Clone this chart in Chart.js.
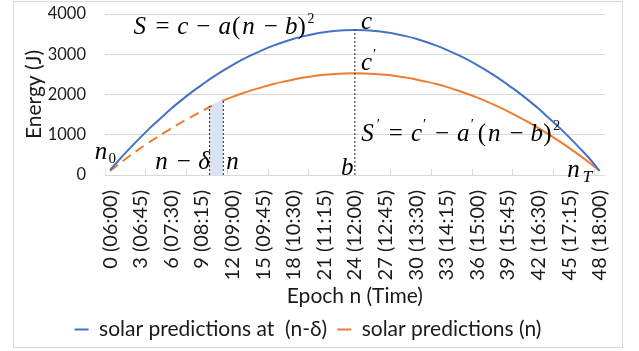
<!DOCTYPE html>
<html>
<head>
<meta charset="utf-8">
<script src="https://cdn.jsdelivr.net/npm/chart.js@4.4.1/dist/chart.umd.min.js"></script>
<style>
  html, body { margin: 0; padding: 0; background: #fff; }
  #frame { position: absolute; left: 13px; top: 1px; width: 610px; height: 347px; border: 1px solid #d9d9d9; box-sizing: border-box; }
  #wrap { position: absolute; left: 0; top: 0; width: 639px; height: 351px; }
</style>
</head>
<body>
<div id="frame"></div>
<div id="wrap"><canvas id="chart"></canvas></div>
<script>
// epochs 0..48 (15 min each, 06:00 -> 18:00)
const epochs = [0, 1, 2, 3, 4, 5, 6, 7, 8, 9, 10, 11, 12, 13, 14, 15, 16, 17, 18, 19, 20, 21, 22, 23, 24,
                25, 26, 27, 28, 29, 30, 31, 32, 33, 34, 35, 36, 37, 38, 39, 40, 41, 42, 43, 44, 45, 46, 47, 48];

// solar predictions made at (n - delta)
const predDelayed = [120, 410, 680, 940, 1190, 1420, 1650, 1860, 2060, 2240, 2420, 2580, 2730, 2870, 2995, 3110,
                     3215, 3305, 3385, 3450, 3505, 3545, 3575, 3595, 3600, 3595, 3575, 3545, 3505, 3450, 3385, 3305,
                     3215, 3110, 2995, 2870, 2730, 2580, 2420, 2240, 2060, 1860, 1650, 1420, 1190, 940, 680, 410, 100];

// solar predictions at n
const predNow = [100, 300, 490, 670, 840, 1000, 1160, 1310, 1450, 1590, 1720, 1840, 1940, 2030, 2115, 2190,
                 2260, 2320, 2375, 2420, 2460, 2490, 2510, 2522, 2526, 2522, 2510, 2490, 2460, 2420, 2375, 2320,
                 2260, 2190, 2106, 2018, 1921, 1816, 1703, 1581, 1451, 1312, 1165, 1010, 846, 674, 493, 304, 107];

const yTickValues = [0, 1000, 2000, 3000, 4000];
const xTickValues = [0, 3, 6, 9, 12, 15, 18, 21, 24, 27, 30, 33, 36, 39, 42, 45, 48];
const xTickLabels = ['0 (06:00)', '3 (06:45)', '6 (07:30)', '9 (08:15)', '12 (09:00)', '15 (09:45)',
                     '18 (10:30)', '21 (11:15)', '24 (12:00)', '27 (12:45)', '30 (13:30)', '33 (14:15)',
                     '36 (15:00)', '39 (15:45)', '42 (16:30)', '45 (17:15)', '48 (18:00)'];
// small tick marks sit between categories, every 4 epochs
const xTickMarks = [-0.5, 3.5, 7.5, 11.5, 15.5, 19.5, 23.5, 27.5, 31.5, 35.5, 39.5, 43.5, 47.5];

// shaded window between n-delta and n, and the peak epoch b
const windowEpochs = [9.75, 11.1];
const windowTop = [1714, 1881];
const peakEpoch = 24;
const peakValue = 3600;
const dashEnd = 10; // orange is dashed up to here

const BLUE = '#4472c4';
const ORANGE = '#ed7d31';
const SANS = 'Lato, "Open Sans", sans-serif';
const SERIF = '"Liberation Serif", "DejaVu Serif", serif';
const TXT = '#1a1a1a';

const xy = (xs, ys) => xs.map((x, i) => ({ x: x, y: ys[i] }));

// draws a little TeX-like formula: [text, style, advance(em)] or a number = gap(em)
function drawMath(ctx, parts, x, y, size) {
    let cx = x;
    parts.forEach(p => {
        if (typeof p === 'number') { cx += p * size; return; }
        const [txt, st, adv] = p;
        let fs = size, dy = 0, it = '';
        if (st === 'i') it = 'italic ';
        if (st === 'sup') { fs = size * 0.55; dy = -size * 0.43; }
        if (st === 'prime') { fs = size * 0.6; dy = -size * 0.45; }
        if (st === 'sub') { fs = size * 0.6; dy = size * 0.16; }
        if (st === 'subi') { fs = size * 0.7; dy = size * 0.2; it = 'italic '; }
        ctx.font = it + fs + 'px ' + SERIF;
        const w = ctx.measureText(txt).width;
        const a = adv !== undefined ? adv * size : w;
        ctx.fillText(txt, cx + (a - w) / 2, y + dy);
        cx += a;
    });
}

const mathPlugin = {
    id: 'mathLabels',
    afterDraw(chart) {
        const { ctx, scales: { x, y } } = chart;
        const px = n => x.getPixelForValue(n);
        const py = v => y.getPixelForValue(v);
        ctx.save();
        ctx.fillStyle = '#000';
        ctx.textBaseline = 'alphabetic';
        ctx.textAlign = 'left';
        const S = 25;
        drawMath(ctx, [['S', 'i', .65], .2, ['=', 'r', .78], .2, ['c', 'i', .45], .2, ['\u2212', 'r', .78], .2,
            ['a', 'i', .53], ['(', 'r', .39], ['n', 'i', .6], .2, ['\u2212', 'r', .78], .2, ['b', 'i', .45],
            [')', 'r', .39], ['2', 'sup', .35]], px(2.1), py(3503), S);
        drawMath(ctx, [['c', 'i', .45]], px(24.6), py(3620), S);
        drawMath(ctx, [['c', 'i', .45], ['\u2032', 'prime', .2]], px(24.6), py(2609), S);
        drawMath(ctx, [['S', 'i', .68], ['\u2032', 'prime', .2], .2, ['=', 'r', .78], .22, ['c', 'i', .45],
            ['\u2032', 'prime', .2], .2, ['\u2212', 'r', .78], .2, ['a', 'i', .53], ['\u2032', 'prime', .2], .08,
            ['(', 'r', .39], ['n', 'i', .6], .2, ['\u2212', 'r', .78], .2, ['b', 'i', .45], [')', 'r', .39],
            ['2', 'sup', .35]], px(24.4), py(857), S);
        drawMath(ctx, [['n', 'i', .6], ['0', 'sub', .3]], px(-1.63), py(397), S);
        drawMath(ctx, [['n', 'i', .6], .2, ['\u2212', 'r', .78], .2, ['\u03b4', 'i', .45]], px(4.31), py(149), S);
        drawMath(ctx, [['n', 'i', .6]], px(11.27), py(149), S);
        drawMath(ctx, [['b', 'i', .45]], px(22.7), py(0), S);
        drawMath(ctx, [['n', 'i', .6], ['T', 'subi', .5]], px(44.7), py(-42), S);
        ctx.restore();
    }
};

const vline = (n, top) => ({
    data: [{ x: n, y: 0 }, { x: n, y: top }],
    borderColor: '#222', borderWidth: 1, borderDash: [2, 2],
    pointRadius: 0, fill: false, order: 0
});

new Chart(document.getElementById('chart'), {
    type: 'line',
    data: {
        datasets: [
            {
                label: 'solar predictions at  (n-\u03b4)',
                data: xy(epochs, predDelayed),
                borderColor: BLUE, backgroundColor: BLUE,
                borderWidth: 2, pointRadius: 0, tension: 0.3, order: 1
            },
            {
                label: 'solar predictions (n)',
                data: xy(epochs, predNow),
                borderColor: ORANGE, backgroundColor: ORANGE,
                borderWidth: 2, pointRadius: 0, tension: 0.3, order: 2,
                segment: {
                    borderDash: c => (c.p1.parsed.x <= dashEnd ? [10, 6] : undefined),
                    borderColor: c => (c.p0.parsed.x === dashEnd ? 'rgba(0,0,0,0)' : undefined)
                }
            },
            {
                label: 'window',
                data: xy(windowEpochs, windowTop),
                borderWidth: 0, pointRadius: 0, tension: 0,
                fill: 'origin', backgroundColor: '#dae3f3', order: 5
            },
            vline(windowEpochs[0], windowTop[0]),
            vline(windowEpochs[1], windowTop[1]),
            vline(peakEpoch, peakValue)
        ]
    },
    options: {
        responsive: true,
        maintainAspectRatio: false,
        animation: false,
        devicePixelRatio: 1,
        layout: { padding: { left: 0, right: 23, top: 14, bottom: 1 } },
        plugins: {
            tooltip: { enabled: false },
            legend: {
                position: 'bottom',
                labels: {
                    boxWidth: 14, boxHeight: 2, padding: 10,
                    color: TXT, font: { family: SANS, size: 21 },
                    generateLabels: chart => Chart.defaults.plugins.legend.labels.generateLabels(chart)
                        .filter(l => l.datasetIndex < 2)
                        .map(l => Object.assign(l, { lineWidth: 0 }))
                }
            }
        },
        scales: {
            y: {
                type: 'linear', min: 0, max: 4000,
                afterBuildTicks: s => { s.ticks = yTickValues.map(v => ({ value: v })); },
                ticks: { padding: 19, color: TXT, font: { family: SANS, size: 16.5 }, callback: v => String(v) },
                grid: { color: '#d9d9d9', drawTicks: false },
                border: { display: false },
                title: { display: true, text: 'Energy (J)', color: TXT, font: { family: SANS, size: 21 }, padding: { top: 22, bottom: 0 } },
                afterFit: s => { s.width = 105; s.paddingTop = 8; s.paddingBottom = 8; }
            },
            xt: {
                type: 'linear', position: 'bottom', min: -0.5, max: 48.5, weight: 0,
                afterBuildTicks: s => { s.ticks = xTickMarks.map(v => ({ value: v })); },
                ticks: { display: false },
                grid: { drawOnChartArea: false, drawTicks: true, tickLength: -6, color: '#d9d9d9' },
                border: { display: true, color: '#d9d9d9' },
                afterFit: s => { s.height = 0; }
            },
            x: {
                type: 'linear', position: 'bottom', min: -0.5, max: 48.5, weight: 1,
                afterBuildTicks: s => { s.ticks = xTickValues.map(v => ({ value: v })); },
                ticks: {
                    autoSkip: false, minRotation: 90, maxRotation: 90, padding: 15,
                    color: TXT, font: { family: SANS, size: 20 },
                    callback: (v, i) => xTickLabels[i]
                },
                grid: { display: false, drawTicks: false },
                border: { display: false },
                title: { display: true, text: 'Epoch n (Time)', color: TXT, font: { family: SANS, size: 21 }, padding: { top: 0, bottom: 0 } },
                afterFit: s => { s.height = 134; }
            }
        }
    },
    plugins: [mathPlugin]
});
</script>
</body>
</html>
